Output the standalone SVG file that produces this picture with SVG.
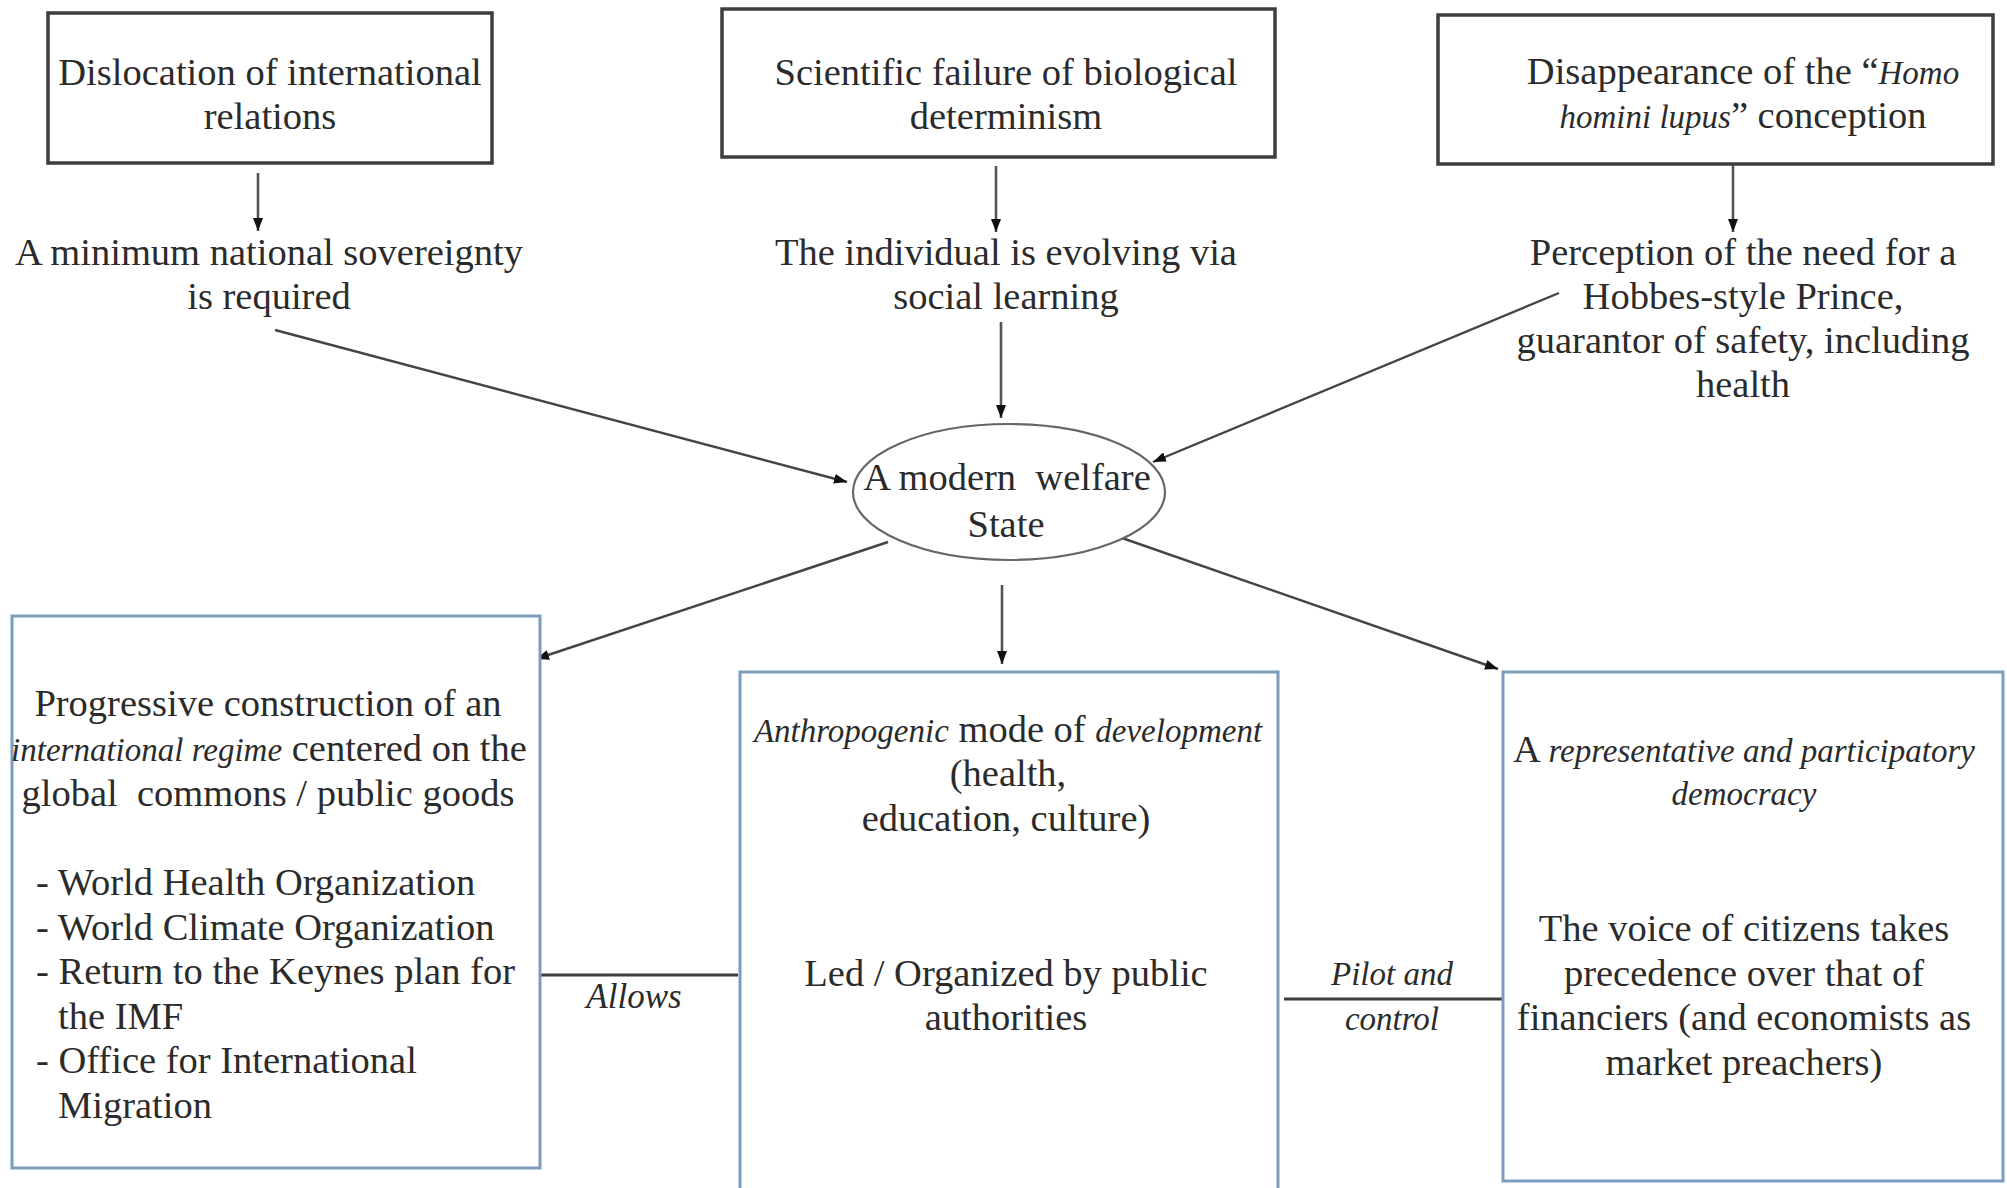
<svg xmlns="http://www.w3.org/2000/svg" width="2007" height="1188" viewBox="0 0 2007 1188">
<style>
text{font-family:"Liberation Serif","Times New Roman",serif;font-size:38.5px;fill:#2b2b2b;text-anchor:middle}
.l{text-anchor:start}
.i{font-style:italic;font-size:33px}
.top{fill:#fff;stroke:#3d3d3d;stroke-width:3.5}
.bot{fill:#fff;stroke:#7d9dc0;stroke-width:3}
.ell{fill:#fff;stroke:#666;stroke-width:2.2}
.c{stroke:#444;stroke-width:2.4;fill:none}
.cv{stroke:#555;stroke-width:2.6;fill:none}
.h{stroke:#3d3d3d;stroke-width:3.2;fill:none}
</style>
<defs>
<marker id="arr" markerUnits="userSpaceOnUse" markerWidth="13" markerHeight="10" refX="13" refY="5" orient="auto">
<path d="M0,0 L13,5 L0,10 z" fill="#111"/>
</marker>
</defs>
<rect width="2007" height="1188" fill="#fff"/>

<g id="connectors">
<line class="cv" x1="258" y1="173" x2="258" y2="231" marker-end="url(#arr)"/>
<line class="cv" x1="996" y1="166" x2="996" y2="232" marker-end="url(#arr)"/>
<line class="cv" x1="1733" y1="165" x2="1733" y2="232" marker-end="url(#arr)"/>
<line class="cv" x1="1001" y1="322" x2="1001" y2="418" marker-end="url(#arr)"/>
<line class="c" x1="275" y1="330" x2="847" y2="482" marker-end="url(#arr)"/>
<line class="c" x1="1559" y1="293" x2="1153" y2="462" marker-end="url(#arr)"/>
<line class="c" x1="888" y1="542" x2="536" y2="659" marker-end="url(#arr)"/>
<line class="cv" x1="1002" y1="585" x2="1002" y2="664" marker-end="url(#arr)"/>
<line class="c" x1="1122" y1="538" x2="1498" y2="669" marker-end="url(#arr)"/>
<line class="h" x1="540" y1="975" x2="738" y2="975"/>
<line class="h" x1="1284" y1="999" x2="1503" y2="999"/>
<text x="634" y="1008" class="i" style="font-size:35px">Allows</text>
<text x="1392" y="985" class="i">Pilot and</text>
<text x="1392" y="1030" class="i">control</text>
</g>

<g id="box-dislocation">
<rect class="top" x="48" y="13" width="444" height="150"/>
<text x="270" y="85">Dislocation of international</text>
<text x="270" y="129">relations</text>
</g>

<g id="box-scientific">
<rect class="top" x="722" y="9" width="553" height="148"/>
<text x="1006" y="85">Scientific failure of biological</text>
<text x="1006" y="129">determinism</text>
</g>

<g id="box-disappearance">
<rect class="top" x="1438" y="15" width="555" height="149"/>
<text x="1743" y="84">Disappearance of the “<tspan class="i">Homo</tspan></text>
<text x="1743" y="128"><tspan class="i">homini lupus</tspan>” conception</text>
</g>

<g id="txt-sovereignty">
<text x="269" y="265">A minimum national sovereignty</text>
<text x="269" y="309">is required</text>
</g>

<g id="txt-individual">
<text x="1006" y="265">The individual is evolving via</text>
<text x="1006" y="309">social learning</text>
</g>

<g id="txt-perception">
<text x="1743" y="265">Perception of the need for a</text>
<text x="1743" y="309">Hobbes-style Prince,</text>
<text x="1743" y="353">guarantor of safety, including</text>
<text x="1743" y="397">health</text>
</g>

<g id="welfare-state">
<ellipse class="ell" cx="1009" cy="492" rx="156" ry="68"/>
<text x="1007" y="490" xml:space="preserve" style="white-space:pre">A modern  welfare</text>
<text x="1006" y="537">State</text>
</g>

<g id="box-international">
<rect class="bot" x="12" y="616" width="528" height="552"/>
<text x="268" y="716">Progressive construction of an</text>
<text x="269" y="761"><tspan class="i">international regime</tspan> centered on the</text>
<text x="268" y="806" xml:space="preserve" style="white-space:pre">global  commons / public goods</text>
<text class="l" x="36" y="895">- World Health Organization</text>
<text class="l" x="36" y="940">- World Climate Organization</text>
<text class="l" x="36" y="984">- Return to the Keynes plan for</text>
<text class="l" x="58" y="1029">the IMF</text>
<text class="l" x="36" y="1073">- Office for International</text>
<text class="l" x="58" y="1118">Migration</text>
</g>

<g id="box-anthropogenic">
<rect class="bot" x="740" y="672" width="538" height="530"/>
<text x="1008" y="742"><tspan class="i">Anthropogenic</tspan> mode of <tspan class="i">development</tspan></text>
<text x="1008" y="786">(health,</text>
<text x="1006" y="831">education, culture)</text>
<text x="1006" y="986">Led / Organized by public</text>
<text x="1006" y="1030">authorities</text>
</g>

<g id="box-democracy">
<rect class="bot" x="1503" y="672" width="500" height="509"/>
<text x="1744" y="762">A <tspan class="i">representative and participatory</tspan></text>
<text x="1744" y="805" class="i">democracy</text>
<text x="1744" y="941">The voice of citizens takes</text>
<text x="1744" y="986">precedence over that of</text>
<text x="1744" y="1030">financiers (and economists as</text>
<text x="1744" y="1075">market preachers)</text>
</g>
</svg>
